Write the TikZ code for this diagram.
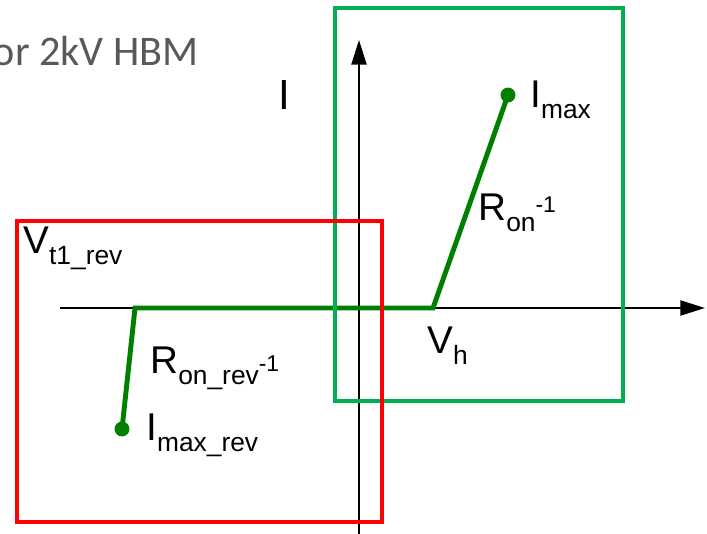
\documentclass[tikz,border=0pt]{standalone}
\usepackage{fontspec}
\setmainfont{Liberation Sans}
\newfontfamily\notefont{Carlito}
\definecolor{boxgreen}{HTML}{00B050}
\definecolor{curvegreen}{HTML}{008000}
\definecolor{notegray}{HTML}{595959}
\usetikzlibrary{arrows.meta}
\newcommand{\subtxt}[1]{\raisebox{-0.3em}{\fontsize{15}{15}\selectfont #1}}
\newcommand{\suptxt}[2][0.2em]{\raisebox{#1}{\fontsize{13}{13}\selectfont #2}}

\begin{document}
\begin{tikzpicture}[x=0.02cm, y=-0.02cm,
    every node/.style={font=\fontsize{22}{26}\selectfont, inner sep=0pt, anchor=base west}]
        \tikzset{
          window/.style={line width=2.2pt},
          axis/.style={line width=1.3pt, -{Triangle[length=14pt, width=8.5pt]}},
          curve/.style={draw=curvegreen, line width=2.8pt},
          endpt/.style={circle, fill=curvegreen, minimum size=8.5pt,
                        inner sep=0pt, anchor=center}
        }
        \useasboundingbox (0,0) rectangle (707,534);
        \node[font=\notefont\fontsize{24}{28}\selectfont, text=notegray,
              anchor=base east] (note) at (199,65) {or 2kV HBM};

        % axes
        \coordinate (xstart) at (60,308);
        \coordinate (xend)   at (705,308);
        \coordinate (ystart) at (359,534);
        \coordinate (yend)   at (359,40);
        \draw[axis] (xstart) -- (xend);
        \draw[axis] (ystart) -- (yend);

        % characteristic
        \node[endpt] (revdot) at (122,429) {};
        \node[endpt] (maxdot) at (508,95) {};
        \coordinate (revknee) at (135,308);
        \coordinate (hold)    at (433,308);
        \draw[curve] (revdot.center) -- (revknee) -- (hold) -- (maxdot.center);

        % windows
        \draw[window, draw=boxgreen] (335,8) rectangle (623,401);
        \draw[window, draw=red] (17,221) rectangle (382,522);

        \node[font=\fontsize{24}{28}\selectfont] (ilabel) at (278,109) {I};
        \node (imax)     at (530,107) {I\subtxt{max}};
        \node (ron)      at (478,220) {R\subtxt{on}\suptxt{-1}};
        \node (vtrev)    at (23,253)  {V\subtxt{t1\_rev}};
        \node (vh)       at (427,353) {V\subtxt{h}};
        \node (ronrev)   at (150,373) {R\subtxt{on\_rev}\suptxt[0.05em]{-1}};
        \node (imaxrev)  at (146,440) {I\subtxt{max\_rev}};
      \end{tikzpicture}
\end{document}
